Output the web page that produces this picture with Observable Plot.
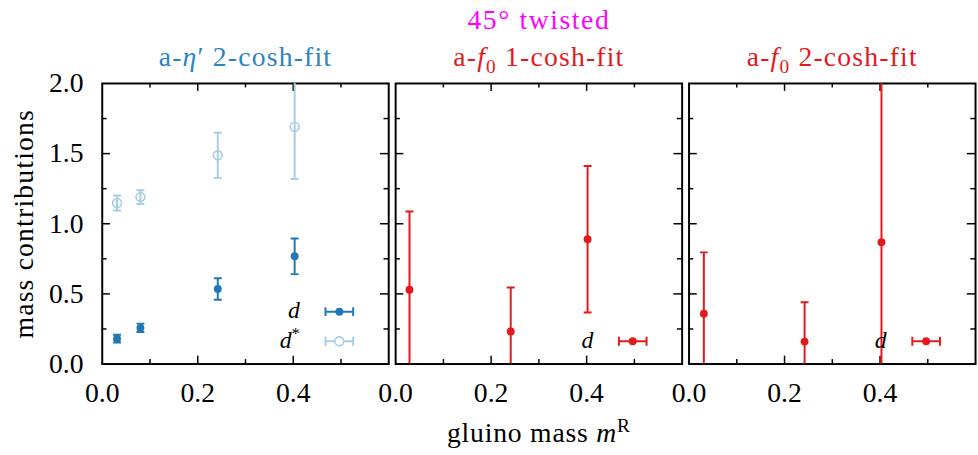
<!DOCTYPE html>
<html>
<head>
<meta charset="utf-8">
<script src="https://cdn.jsdelivr.net/npm/d3@7"></script>
<script src="https://cdn.jsdelivr.net/npm/@observablehq/plot@0.6"></script>
<style>
html, body { margin: 0; padding: 0; background: #ffffff; overflow: hidden; }
#chart { width: 978px; height: 455px; overflow: hidden; }
#chart svg, #chart svg text, #chart svg tspan { font-family: "Liberation Serif", "DejaVu Serif", serif !important; }
</style>
</head>
<body>
<div id="chart"></div>
<script>
// ---------- data ----------
const panelKeys = ["eta", "f0one", "f0two"];
const panelTitles = ["a-*η*′ 2-cosh-fit", "a-*f*_{0} 1-cosh-fit", "a-*f*_{0} 2-cosh-fit"];
const panelSupertitles = ["", "45° twisted", ""];

const etaMass = [0.031, 0.080, 0.242, 0.403];
const etaD = [0.181, 0.258, 0.535, 0.768];
const etaDErr = [0.028, 0.030, 0.076, 0.127];
const etaDStar = [1.148, 1.190, 1.488, 1.692];
const etaDStarErr = [0.054, 0.049, 0.161, 0.373];

const f0OneMass = [0.029, 0.241, 0.402];
const f0OneD = [0.530, 0.232, 0.890];
const f0OneDErr = [0.557, 0.313, 0.522];

const f0TwoMass = [0.031, 0.242, 0.403];
const f0TwoD = [0.359, 0.160, 0.869];
const f0TwoDErr = [0.437, 0.281, 1.500];

const xTickLabels = [0.0, 0.2, 0.4];
const yTickLabels = [0.0, 0.5, 1.0, 1.5, 2.0];
const xMajorTicks = [0.2, 0.4];
const xMinorTicks = [0.1, 0.3, 0.5];
const yMajorTicks = [0.5, 1.0, 1.5];
const yMinorTicks = [0.25, 0.75, 1.25, 1.75];

const xLabel = "gluino mass *m*^{R}";
const yLabel = "mass contributions";

// ---------- styles ----------
const colors = {
  dDark: "#1f78b4",
  dLight: "#a6cee3",
  dRed: "#e31a1c",
  titleBlue: "#2b84c0",
  titleRed: "#e31a1c",
  magenta: "#ff00ff"
};
const titleColors = [colors.titleBlue, colors.titleRed, colors.titleRed];

const series = [
  {panel: "eta", name: "*d*", color: colors.dDark, open: false, xs: etaMass, ys: etaD, es: etaDErr},
  {panel: "eta", name: "*d*^{*}", color: colors.dLight, open: true, xs: etaMass, ys: etaDStar, es: etaDStarErr},
  {panel: "f0one", name: "*d*", color: colors.dRed, open: false, xs: f0OneMass, ys: f0OneD, es: f0OneDErr},
  {panel: "f0two", name: "*d*", color: colors.dRed, open: false, xs: f0TwoMass, ys: f0TwoD, es: f0TwoDErr}
];

const points = series.flatMap(s => s.xs.map((x, i) => ({
  panel: s.panel, color: s.color, open: s.open, x, y: s.ys[i], err: s.es[i]
})));
const caps = points.flatMap(d => [{...d, yc: d.y - d.err}, {...d, yc: d.y + d.err}]);

const legendRows = series.map(s => {
  const inPanel = series.filter(t => t.panel === s.panel);
  return {...s, row: inPanel.length - 1 - inPanel.indexOf(s)};
});

const titleRows = panelKeys.map((k, i) => ({panel: k, title: panelTitles[i], color: titleColors[i]}));
const superRows = panelKeys.map((k, i) => ({panel: k, title: panelSupertitles[i]})).filter(d => d.title);

// ---------- geometry ----------
const FRAME_W = 289.7, FRAME_H = 284;
const MAJOR = 8, MINOR = 4.5;
const rowDy = r => -23 - 30 * r;

const capSymbol = {
  draw(ctx, size) {
    const r = Math.sqrt(size / Math.PI);
    ctx.moveTo(-r, 0); ctx.lineTo(r, 0);
  }
};
const legendBarSymbol = {
  draw(ctx) {
    ctx.moveTo(-14, 0); ctx.lineTo(14, 0);
    ctx.moveTo(-14, -4.5); ctx.lineTo(-14, 4.5);
    ctx.moveTo(14, -4.5); ctx.lineTo(14, 4.5);
  }
};

const tickStyle = {stroke: "black", strokeWidth: 1.5};

const legendMarks = [0, 1].flatMap(r => {
  const rows = legendRows.filter(d => d.row === r);
  return [
    Plot.dot(rows, {fx: "panel", frameAnchor: "bottom-right", dx: -50, dy: rowDy(r),
      symbol: legendBarSymbol, r: 4, stroke: "color", strokeWidth: 2, fill: "none"}),
    Plot.dot(rows.filter(d => !d.open), {fx: "panel", frameAnchor: "bottom-right", dx: -50, dy: rowDy(r),
      r: 4, fill: "color"}),
    Plot.dot(rows.filter(d => d.open), {fx: "panel", frameAnchor: "bottom-right", dx: -50, dy: rowDy(r),
      r: 4.5, stroke: "color", strokeWidth: 1.6, fill: "white"}),
    Plot.text(rows, {fx: "panel", frameAnchor: "bottom-right", dx: -90, dy: rowDy(r) - 1,
      text: "name", textAnchor: "end", lineAnchor: "middle", fill: "black", fontSize: 24})
  ];
});

const chart = Plot.plot({
  width: 990,
  height: 455,
  marginLeft: 103,
  marginRight: 3,
  marginTop: 84,
  marginBottom: 87,
  x: {domain: [0, 0.6]},
  y: {domain: [0, 2]},
  fx: {domain: panelKeys, axis: null, paddingInner: 0.0252, paddingOuter: 0},
  color: {type: "identity"},
  style: {fontFamily: "Liberation Serif", fontSize: "28px", background: "white", color: "black"},
  marks: [
    Plot.frame({stroke: "black", strokeWidth: 2}),
    // inward ticks on all four sides
    Plot.tickX(xMajorTicks, {x: d => d, insetTop: FRAME_H - MAJOR, ...tickStyle}),
    Plot.tickX(xMajorTicks, {x: d => d, insetBottom: FRAME_H - MAJOR, ...tickStyle}),
    Plot.tickX(xMinorTicks, {x: d => d, insetTop: FRAME_H - MINOR, ...tickStyle}),
    Plot.tickX(xMinorTicks, {x: d => d, insetBottom: FRAME_H - MINOR, ...tickStyle}),
    Plot.tickY(yMajorTicks, {y: d => d, insetRight: FRAME_W - MAJOR, ...tickStyle}),
    Plot.tickY(yMajorTicks, {y: d => d, insetLeft: FRAME_W - MAJOR, ...tickStyle}),
    Plot.tickY(yMinorTicks, {y: d => d, insetRight: FRAME_W - MINOR, ...tickStyle}),
    Plot.tickY(yMinorTicks, {y: d => d, insetLeft: FRAME_W - MINOR, ...tickStyle}),
    Plot.axisX({ticks: xTickLabels, tickSize: 0, tickPadding: 19, tickFormat: d3.format(".1f"), label: null}),
    Plot.axisY({ticks: yTickLabels, tickSize: 0, tickPadding: 19, tickFormat: d3.format(".1f"), label: null}),
    // error bars
    Plot.ruleX(points, {fx: "panel", x: "x", y1: d => d.y - d.err, y2: d => d.y + d.err,
      stroke: "color", strokeWidth: 2, clip: true}),
    Plot.dot(caps, {fx: "panel", x: "x", y: "yc", symbol: capSymbol, r: 4,
      stroke: "color", strokeWidth: 2, fill: "none", clip: true}),
    // points
    Plot.dot(points.filter(d => !d.open), {fx: "panel", x: "x", y: "y", r: 4, fill: "color", clip: true}),
    Plot.dot(points.filter(d => d.open), {fx: "panel", x: "x", y: "y", r: 4.5,
      stroke: "color", strokeWidth: 1.6, fill: "none", clip: true}),
    ...legendMarks,
    // titles
    Plot.text(titleRows, {fx: "panel", text: "title", fill: "color", frameAnchor: "top", lineAnchor: "bottom", dy: -18}),
    Plot.text(superRows, {fx: "panel", text: "title", fill: colors.magenta, frameAnchor: "top", lineAnchor: "bottom", dy: -55}),
    // axis labels
    Plot.text([xLabel], {facet: "super", text: d => d, frameAnchor: "bottom", textAnchor: "middle",
      lineAnchor: "bottom", dy: 79, fill: "black"}),
    Plot.text([yLabel], {facet: "super", text: d => d, frameAnchor: "left", textAnchor: "middle",
      lineAnchor: "middle", rotate: -90, dx: -79, fill: "black"})
  ]
});

// letter spacing to approximate the wider TeX lettering
const spacing = new Map([
  ...panelTitles.map(t => [t, "1.2px"]),
  ...panelSupertitles.filter(Boolean).map(t => [t, "1.6px"]),
  [xLabel, "0.8px"],
  [yLabel, "1.2px"]
]);

// simple markup: *italic*, ^{sup}, _{sub}; shifts in em of the base font
const SMALL = 0.7;
function formatMarkup(el) {
  const s = el.textContent;
  if (spacing.has(s)) el.style.letterSpacing = spacing.get(s);
  if (!/[*^_]/.test(s)) return;
  const tokens = s.match(/\*[^*]+\*|\^\{[^}]*\}|_\{[^}]*\}|[^*^_]+/g);
  if (!tokens) return;
  el.textContent = "";
  let shift = 0;
  for (const t of tokens) {
    const ts = document.createElementNS("http://www.w3.org/2000/svg", "tspan");
    let target = 0, content = t, scale = 1;
    if (t[0] === "*") { content = t.slice(1, -1); ts.setAttribute("font-style", "italic"); }
    else if (t[0] === "^") { content = t.slice(2, -1); target = -0.38; scale = SMALL; ts.setAttribute("font-size", "70%"); }
    else if (t[0] === "_") { content = t.slice(2, -1); target = 0.25; scale = SMALL; ts.setAttribute("font-size", "70%"); }
    if (target !== shift) { ts.setAttribute("dy", `${((target - shift) / scale).toFixed(3)}em`); shift = target; }
    ts.textContent = content;
    el.appendChild(ts);
  }
}
chart.querySelectorAll("text").forEach(formatMarkup);

document.getElementById("chart").append(chart);
</script>
</body>
</html>
